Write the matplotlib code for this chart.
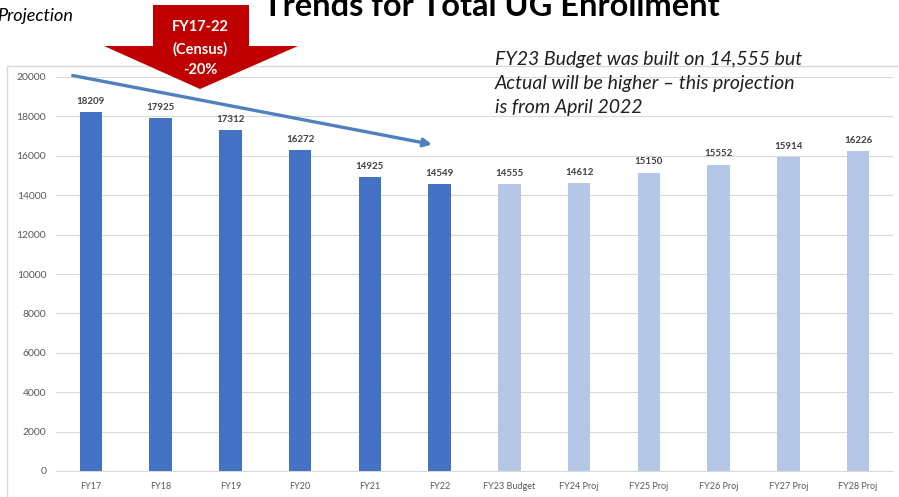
"""Trends for Total UG Enrollment - actuals FY17-22 plus projections."""

import matplotlib
matplotlib.use("Agg")
import matplotlib.pyplot as plt
from matplotlib.patches import Polygon, Rectangle

# --- data ---
categories = ["FY17", "FY18", "FY19", "FY20", "FY21", "FY22",
              "FY23 Budget", "FY24 Proj", "FY25 Proj", "FY26 Proj", "FY27 Proj", "FY28 Proj"]
enrollment = [18209, 17925, 17312, 16272, 14925, 14549,
              14555, 14612, 15150, 15552, 15914, 16226]
n_actual = 6
yticks = list(range(0, 20001, 2000))

# --- style ---
DARK = "#4472C4"
LIGHT = "#B4C7E7"
RED = "#C00000"
ARROW_BLUE = "#4F81BD"
GRID = "#D9D9D9"
FONT = "Lato"

W, H = 899, 497
plt.rcParams["font.family"] = [FONT, "DejaVu Sans"]

fig = plt.figure(figsize=(W / 100, H / 100), dpi=100)


def px(x, y):
    """pixel (from top-left) -> figure fraction"""
    return x / W, 1 - y / H


# chart frame
fig.patches.append(Rectangle(px(7, 520), (920 - 7) / W, (520 - 66) / H,
                             transform=fig.transFigure, fill=False,
                             edgecolor=GRID, linewidth=1, zorder=0))

ax = fig.add_axes([56 / W, (H - 471) / H, (893 - 56) / W, (471 - 77) / H])
xs = list(range(len(categories)))
colors = [DARK if i < n_actual else LIGHT for i in xs]
bars = ax.bar(xs, enrollment, width=0.32, color=colors, zorder=3)

for x, v in zip(xs, enrollment):
    ax.annotate(f"{v}", (x, v), xytext=(0, 4.5), textcoords="offset points",
                ha="center", va="bottom", fontsize=7, fontweight="bold", color="#404040")

ax.set_xlim(-0.5, len(categories) - 0.5)
ax.set_ylim(0, 20000)
ax.set_yticks(yticks)
ax.set_xticks(xs)
ax.set_xticklabels(categories, fontsize=6.5, color="#595959")
ax.tick_params(axis="y", labelsize=7.5, labelcolor="#595959", length=0, pad=7)
ax.tick_params(axis="x", length=0, pad=8)
ax.grid(axis="y", color=GRID, linewidth=0.8, zorder=0)
for s in ["top", "right", "left"]:
    ax.spines[s].set_visible(False)
ax.spines["bottom"].set_color(GRID)

# trend arrow
ax.annotate("", xy=(4.93, 16550), xytext=(-0.3, 20102),
            arrowprops=dict(arrowstyle="-|>", color=ARROW_BLUE, lw=2.4, mutation_scale=12),
            annotation_clip=False, zorder=5)

# red down arrow
arrow_pts = [(153, 5), (249, 5), (249, 46), (298, 46), (200, 89), (104, 46), (153, 46)]
fig.patches.append(Polygon([px(x, y) for x, y in arrow_pts], closed=True,
                           transform=fig.transFigure, facecolor=RED, edgecolor="none", zorder=4))
for text, y in [("FY17-22", 27), ("(Census)", 49), ("-20%", 70)]:
    fig.text(*px(200, y), text, ha="center", va="center", fontsize=10.5,
             fontweight="bold", color="white", zorder=6)

# title and notes
fig.text(*px(491, 16), "Trends for Total UG Enrollment", ha="center", va="baseline",
         fontsize=23.5, fontweight="bold", color="black")
fig.text(*px(-3, 16), "Projection", ha="left", va="center", fontsize=13,
         style="italic", color="black")
note = ["FY23 Budget was built on 14,555 but",
        "Actual will be higher \u2013 this projection",
        "is from April 2022"]
for i, line in enumerate(note):
    fig.text(*px(495, 60 + 23.5 * i), line, ha="left", va="center", fontsize=14,
             style="italic", color="#202020")

fig.savefig("out.png", dpi=100)
